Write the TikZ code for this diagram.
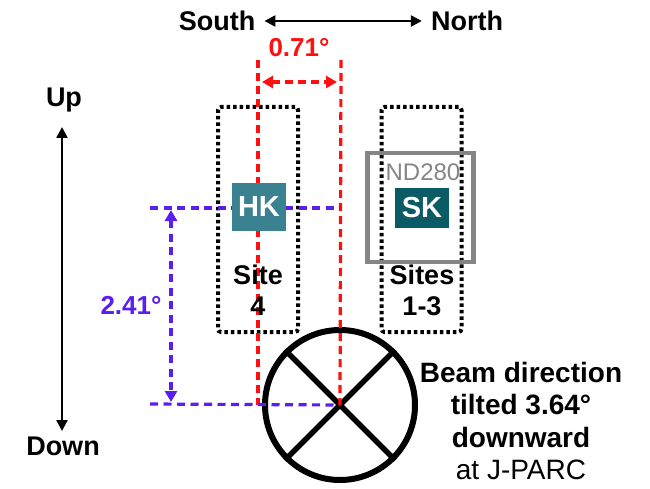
\documentclass[tikz,border=0pt]{standalone}
\usepackage{fontspec}
\setmainfont{Liberation Sans}
\usetikzlibrary{arrows.meta,calc}
\definecolor{hkteal}{HTML}{3B8290}
\definecolor{skteal}{HTML}{0B5B66}
\definecolor{purp}{HTML}{5A1EF0}
\definecolor{redd}{HTML}{FF1010}
\definecolor{ndgray}{HTML}{858585}
\tikzset{
  lbl/.style={inner sep=0pt, font=\fontsize{27}{31}\selectfont\bfseries, align=center},
  sitebox/.style={draw=black, line width=4pt, dash pattern=on 3.5pt off 3pt, rounded corners=3pt, minimum width=80pt, minimum height=225pt, inner sep=0pt},
  detbox/.style={inner sep=0pt, text=white, font=\fontsize{29}{30}\selectfont\bfseries},
  reddash/.style={draw=redd, line width=3.2pt, dash pattern=on 8pt off 5pt},
  purpdash/.style={draw=purp, line width=3.2pt, dash pattern=on 8pt off 5.5pt},
  dirarrow/.style={draw=black, line width=2.4pt, {Triangle[length=11pt,width=11pt]}-{Triangle[length=11pt,width=11pt]}},
  dimtips/.style={{Triangle[length=11pt,width=12pt]}-{Triangle[length=11pt,width=12pt]}},
}
\begin{document}
\begin{tikzpicture}[x=1pt,y=-1pt]
\useasboundingbox (0,0) rectangle (650,489);

% direction labels
\node[lbl] (south) at (217,21) {South};
\node[lbl] (north) at (467,21) {North};
\coordinate (sa) at ($(south.east)+(9pt,0)$);
\coordinate (na) at ($(north.west)+(-9pt,0)$);
\draw[dirarrow] (sa) -- (na);
\node[lbl] (up) at (64,100) {Up};
\node[lbl] (down) at (63,446) {Down};
\coordinate (ua) at (62,127);
\coordinate (da) at (62,431);
\draw[dirarrow] (ua) -- (da);

% beam circle
\node[draw=black, line width=6pt, circle, minimum size=150pt, inner sep=0pt] (beam) at (340,405) {};
\draw[line width=5.5pt] (beam.45) -- (beam.225);
\draw[line width=5.5pt] (beam.135) -- (beam.-45);

% site boxes
\node[sitebox] (site4) at (258,219.5) {};
\node[sitebox] (site13) at (421.5,219.5) {};

% red dashed lines
\coordinate (rlt) at (258,60);
\coordinate (rlb) at (258,405);
\coordinate (rrt) at (341,60);
\draw[reddash] (rlt) -- (rlb);
\draw[reddash] (rrt) -- (beam.center);
\coordinate (ra1) at (262,82);
\coordinate (ra2) at (337,82);
\draw[reddash, dimtips] (ra1) -- (ra2);
\node[inner sep=0pt, text=redd, font=\fontsize{26}{30}\selectfont\bfseries] (ang1) at (299,48) {0.71°};

% purple dashed lines
\coordinate (pt1) at (150,208);
\coordinate (pt2) at (340,208);
\coordinate (pb1) at (150,404);
\draw[purpdash] (pt1) -- (pt2);
\draw[purpdash] (pb1) -- (beam.center);
\coordinate (pa1) at (171,210);
\coordinate (pa2) at (171,402);
\draw[purpdash, dimtips] (pa1) -- (pa2);
\node[inner sep=0pt, text=purp, font=\fontsize{26}{30}\selectfont\bfseries] (ang2) at (131,305) {2.41°};

% ND280 box
\node[draw=ndgray, line width=4.5pt, minimum width=106pt, minimum height=109pt, inner sep=0pt] (nd) at (420.5,207.5) {};
\node[inner sep=0pt, text=ndgray, font=\fontsize{24}{26}\selectfont] (ndl) at (423,172) {ND280};

% detectors
\node[detbox, fill=hkteal, minimum width=54pt, minimum height=48pt] (hk) at (259,207) {HK};
\node[detbox, fill=skteal, minimum width=54pt, minimum height=40pt] (sk) at (422,208) {SK};

% site labels
\node[lbl] (s4) at (258,290) {Site\\4};
\node[lbl] (s13) at (422,290) {Sites\\1-3};

% beam text
\node[inner sep=0pt, align=center, font=\fontsize{28}{32.5}\selectfont] (beamtxt) at (521,421)
  {\textbf{Beam direction}\\\textbf{tilted 3.64°}\\\textbf{downward}\\at J-PARC};
\end{tikzpicture}
\end{document}
